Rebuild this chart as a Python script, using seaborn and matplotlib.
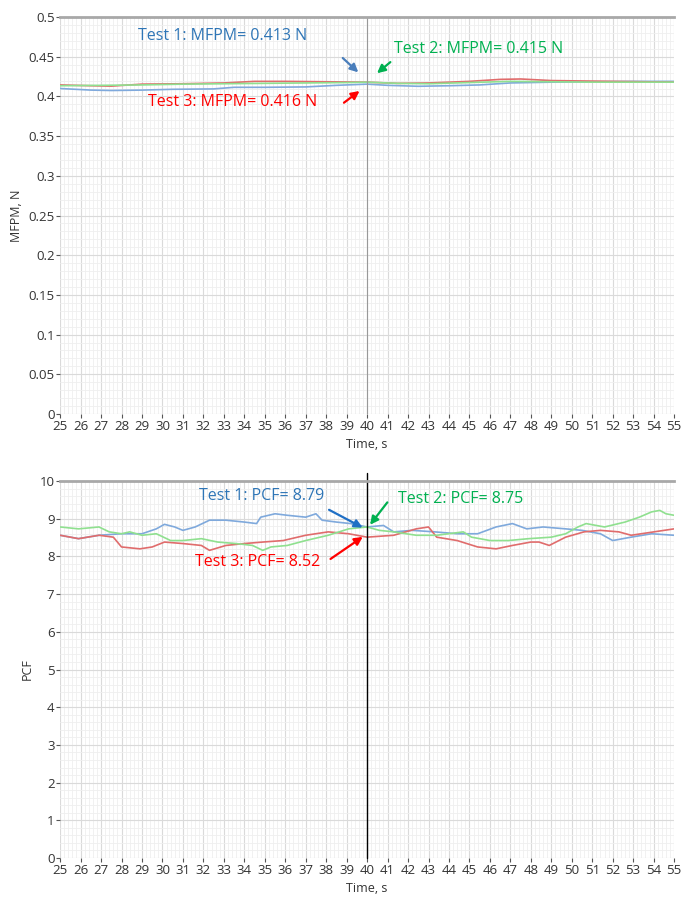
import numpy as np
import pandas as pd
import matplotlib
matplotlib.use("Agg")
import matplotlib.pyplot as plt
import seaborn as sns
from matplotlib.ticker import MultipleLocator, FormatStrFormatter

# MFPM traces (time in s, force in N)
mfpm_t1_time = [25, 26.5, 27.5, 29, 30.5, 32.5, 33.5, 35, 37, 38.5, 40, 41, 42.5, 44, 45.5, 47, 49, 51, 53, 55]
mfpm_t1_val = [0.410, 0.408, 0.4075, 0.408, 0.409, 0.4095, 0.4115, 0.4115, 0.412, 0.414, 0.4155, 0.414, 0.4128, 0.4135, 0.4145, 0.417, 0.418, 0.4185, 0.419, 0.419]
mfpm_t2_time = [25, 27, 29, 31, 33, 35, 37, 39, 40, 41.5, 43, 45, 47, 49, 51, 53, 55]
mfpm_t2_val = [0.4135, 0.414, 0.4145, 0.4155, 0.416, 0.4165, 0.417, 0.4175, 0.418, 0.4165, 0.416, 0.4175, 0.419, 0.4185, 0.418, 0.418, 0.418]
mfpm_t3_time = [25, 26.5, 27.5, 29, 31, 33, 34.5, 36, 38, 40, 41.5, 43, 45, 46.5, 47.5, 49, 50.5, 52, 53.5, 55]
mfpm_t3_val = [0.4145, 0.4135, 0.413, 0.4155, 0.416, 0.417, 0.419, 0.419, 0.4185, 0.418, 0.4165, 0.417, 0.419, 0.4215, 0.422, 0.420, 0.4195, 0.419, 0.4185, 0.418]

# PCF traces
pcf_t1_time = [25, 25.9, 26.9, 28, 29, 29.7, 30.1, 30.6, 31, 31.6, 32.3, 33.1, 34, 34.6, 34.8, 35.5, 36.1,
               37, 37.5, 37.8, 38.5, 39.2, 40, 40.8, 41.3, 42.2, 43.3, 44.4, 45.4, 46.3, 47.1, 47.8,
               48.6, 49.7, 50.5, 51.4, 52, 52.9, 53.9, 55]
pcf_t1_val = [8.56, 8.47, 8.56, 8.60, 8.60, 8.73, 8.85, 8.78, 8.69, 8.78, 8.96, 8.96, 8.91, 8.87, 9.04, 9.13, 9.09,
              9.04, 9.13, 8.96, 8.91, 8.87, 8.78, 8.82, 8.65, 8.69, 8.65, 8.60, 8.60, 8.78, 8.87, 8.73,
              8.78, 8.73, 8.69, 8.60, 8.42, 8.51, 8.60, 8.56]
pcf_t2_time = [25, 25.9, 26.9, 27.4, 28, 28.4, 29, 29.7, 30.4, 31, 31.9, 32.7, 33.6, 34.4, 34.9, 35.3,
               36.1, 37, 38.1, 39.1, 40, 40.6, 41.3, 42.4, 43.4, 44.7, 45.1, 46, 46.9, 47.9, 49,
               49.7, 50.3, 50.7, 51.6, 52.6, 53.3, 53.9, 54.3, 54.6, 55]
pcf_t2_val = [8.78, 8.73, 8.78, 8.65, 8.60, 8.65, 8.56, 8.60, 8.42, 8.42, 8.47, 8.38, 8.34, 8.29, 8.16, 8.25,
              8.29, 8.42, 8.56, 8.73, 8.78, 8.69, 8.65, 8.56, 8.56, 8.65, 8.51, 8.42, 8.42, 8.47, 8.51,
              8.60, 8.78, 8.87, 8.78, 8.91, 9.04, 9.18, 9.22, 9.13, 9.09]
pcf_t3_time = [25, 25.9, 26.9, 27.6, 28, 28.9, 29.5, 30.1, 31, 31.9, 32.3, 33.1, 34, 34.9, 35.9, 37,
               38.1, 39.1, 40, 41.3, 42.4, 43, 43.4, 44.4, 45.4, 46.3, 47.1, 48, 48.4, 48.9, 49.7,
               50.6, 51.4, 52.3, 52.9, 55]
pcf_t3_val = [8.56, 8.47, 8.56, 8.51, 8.25, 8.20, 8.25, 8.38, 8.34, 8.29, 8.16, 8.29, 8.34, 8.38, 8.42, 8.56,
              8.65, 8.60, 8.51, 8.56, 8.73, 8.78, 8.51, 8.42, 8.25, 8.20, 8.29, 8.38, 8.38, 8.29, 8.51,
              8.65, 8.69, 8.65, 8.56, 8.73]

x_ticks = list(range(25, 56))

blue_line = "#7fa9dc"
green_line = "#8fe08f"
red_line = "#e06c6c"

sns.set_style("white")
plt.rcParams["font.family"] = ["Open Sans", "DejaVu Sans"]

fig = plt.figure(figsize=(6.83, 8.98), dpi=100)
ax1 = fig.add_axes([0.088, 0.539, 0.899, 0.442])
ax2 = fig.add_axes([0.088, 0.0445, 0.899, 0.4199])


def style_axes(ax, ymax, ymajor, yminor, ylabel):
    ax.set_xlim(25, 55)
    ax.set_ylim(0, ymax)
    ax.set_xticks(x_ticks)
    ax.xaxis.set_minor_locator(MultipleLocator(0.2))
    ax.yaxis.set_major_locator(MultipleLocator(ymajor))
    ax.yaxis.set_minor_locator(MultipleLocator(yminor))
    ax.yaxis.set_major_formatter(FormatStrFormatter("%g"))
    ax.grid(which="major", color="#dadada", linewidth=0.8)
    ax.grid(which="minor", color="#efefef", linewidth=0.6)
    ax.set_axisbelow(True)
    for s in ["left", "right", "bottom"]:
        ax.spines[s].set_visible(False)
    ax.spines["top"].set_color("#a8a8a8")
    ax.spines["top"].set_linewidth(2)
    ax.tick_params(which="major", axis="both", length=3, width=0.8, color="#555555",
                   labelsize=9.5, labelcolor="#333333", pad=1, left=True, bottom=True)
    ax.tick_params(which="minor", left=False, bottom=False)
    ax.set_xlabel("Time, s", fontsize=9, color="#333333", labelpad=4)
    ax.set_ylabel(ylabel, fontsize=9, color="#333333", labelpad=4)


def trace(ax, t, v, color):
    df = pd.DataFrame({"t": t, "v": v})
    sns.lineplot(data=df, x="t", y="v", ax=ax, color=color, linewidth=1.2)


# top panel
trace(ax1, mfpm_t1_time, mfpm_t1_val, blue_line)
trace(ax1, mfpm_t3_time, mfpm_t3_val, red_line)
trace(ax1, mfpm_t2_time, mfpm_t2_val, green_line)
ax1.axvline(40, color="#999999", linewidth=0.8)
style_axes(ax1, 0.5, 0.05, 0.01, "MFPM, N")

ax1.text(28.8, 0.4756, "Test 1: MFPM= 0.413 N", color="#2e75b6", fontsize=11.5, va="center")
ax1.text(41.3, 0.460, "Test 2: MFPM= 0.415 N", color="#00b050", fontsize=11.5, va="center")
ax1.text(29.3, 0.393, "Test 3: MFPM= 0.416 N", color="#ff0000", fontsize=11.5, va="center")
ax1.annotate("", xy=(39.67, 0.428), xytext=(38.71, 0.4508),
             arrowprops=dict(arrowstyle="-|>", color="#4a7ebb", lw=1.6, mutation_scale=12))
ax1.annotate("", xy=(40.38, 0.427), xytext=(41.24, 0.4455),
             arrowprops=dict(arrowstyle="-|>", color="#00b050", lw=1.6, mutation_scale=12))
ax1.annotate("", xy=(39.74, 0.409), xytext=(38.76, 0.390),
             arrowprops=dict(arrowstyle="-|>", color="#ff0000", lw=1.6, mutation_scale=12))

# bottom panel
trace(ax2, pcf_t1_time, pcf_t1_val, blue_line)
trace(ax2, pcf_t3_time, pcf_t3_val, red_line)
trace(ax2, pcf_t2_time, pcf_t2_val, green_line)
ax2.axvline(40, ymin=0, ymax=1.02, color="black", linewidth=1, clip_on=False)
style_axes(ax2, 10, 1, 0.2, "PCF")

ax2.text(31.8, 9.59, "Test 1: PCF= 8.79", color="#2e75b6", fontsize=11.5, va="center")
ax2.text(41.5, 9.53, "Test 2: PCF= 8.75", color="#00b050", fontsize=11.5, va="center")
ax2.text(31.6, 7.86, "Test 3: PCF= 8.52", color="#ff0000", fontsize=11.5, va="center")
ax2.annotate("", xy=(39.9, 8.73), xytext=(38.02, 9.27),
             arrowprops=dict(arrowstyle="-|>", color="#1f6fc5", lw=1.6, mutation_scale=12))
ax2.annotate("", xy=(40.06, 8.78), xytext=(41.07, 9.49),
             arrowprops=dict(arrowstyle="-|>", color="#00b050", lw=1.6, mutation_scale=12))
ax2.annotate("", xy=(39.9, 8.56), xytext=(38.1, 7.89),
             arrowprops=dict(arrowstyle="-|>", color="#ff0000", lw=1.6, mutation_scale=12))

fig.savefig("out.png", dpi=100)
